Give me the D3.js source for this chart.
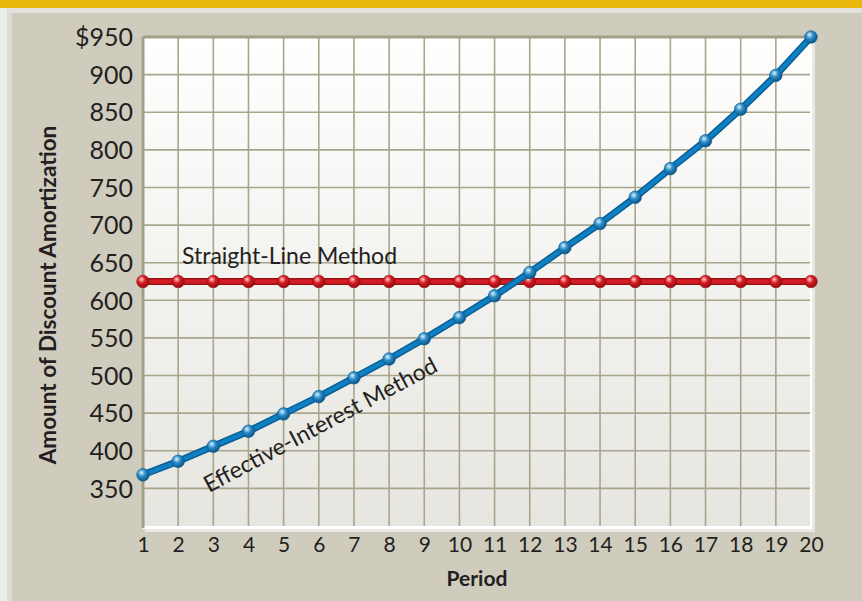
<!DOCTYPE html>
<html><head><meta charset="utf-8">
<script src="https://cdn.jsdelivr.net/npm/d3@7/dist/d3.min.js"></script>
<style>
html,body{margin:0;padding:0;background:#cfccbe;}
svg{display:block;font-family:Lato,"Open Sans",sans-serif;}
</style></head>
<body><svg id="chart" width="862" height="601"></svg>
<script>
const periods = d3.range(1, 21);
const straightLine = [625,625,625,625,625,625,625,625,625,625,625,625,625,625,625,625,625,625,625,625];
const effectiveInterest = [368,386,406,426,449,472,497,522,549,577,606,637,670,702,737,775,812,854,899,950];
const yTicks = [350,400,450,500,550,600,650,700,750,800,850,900,950];
const yTickLabels = ["350","400","450","500","550","600","650","700","750","800","850","900","$950"];
const yTitle = "Amount of Discount Amortization";
const xTitle = "Period";
const slLabel = "Straight-Line Method";
const eiLabel = "Effective-Interest Method";

const svg = d3.select("#chart");
const W = 862, H = 601;
const L = 143, R = 811, T = 37, B = 526;

// frame
svg.append("rect").attr("width",W).attr("height",H).attr("fill","#cfccbe");
svg.append("rect").attr("x",0).attr("y",0).attr("width",7).attr("height",H).attr("fill","#e8efe8");
svg.append("rect").attr("x",7).attr("y",8).attr("width",5).attr("height",H).attr("fill","#dedbd3");
svg.append("rect").attr("x",7).attr("y",8).attr("width",W).attr("height",5).attr("fill","#e3e1db");
svg.append("rect").attr("x",0).attr("y",0).attr("width",W).attr("height",8).attr("fill","#e8b80b");

const x = d3.scaleLinear().domain([1,20]).range([L,R]);
const y = d3.scaleLinear().domain([300,950]).range([B,T]);

const defs = svg.append("defs");
const bg = defs.append("linearGradient").attr("id","bg").attr("x1",0).attr("y1",0).attr("x2",0).attr("y2",1);
bg.append("stop").attr("offset","0%").attr("stop-color","#ffffff");
bg.append("stop").attr("offset","100%").attr("stop-color","#e6e5df");
function ball(id, hi, mid, dark){
  const g = defs.append("radialGradient").attr("id",id).attr("cx","40%").attr("cy","38%").attr("r","65%").attr("fx","38%").attr("fy","32%");
  g.append("stop").attr("offset","0%").attr("stop-color",hi);
  g.append("stop").attr("offset","45%").attr("stop-color",mid);
  g.append("stop").attr("offset","100%").attr("stop-color",dark);
}
ball("redBall","#ffd0d0","#d81c22","#8a0c10");
ball("blueBall","#dff2ff","#2a8cc8","#0b4f80");

// plot shadow/border
svg.append("rect").attr("x",L+2).attr("y",T+2).attr("width",R-L+2).attr("height",B-T+4).attr("fill","#e9e8e3");
svg.append("rect").attr("x",L).attr("y",T).attr("width",R-L+1).attr("height",B-T+3).attr("fill","#ffffff");
svg.append("rect").attr("x",L).attr("y",T).attr("width",R-L-1).attr("height",B-T).attr("fill","url(#bg)");

// grid
const grid = svg.append("g");
grid.selectAll("line.h").data(yTicks).join("line")
  .attr("x1",L).attr("x2",R-1).attr("y1",d=>y(d)).attr("y2",d=>y(d))
  .attr("stroke","#a7a68d").attr("stroke-width",1.6);
grid.selectAll("line.v").data(periods.slice(1,19)).join("line")
  .attr("y1",T).attr("y2",B).attr("x1",d=>x(d)).attr("x2",d=>x(d))
  .attr("stroke","#a7a68d").attr("stroke-width",1.6);
// top/left darker edges
svg.append("line").attr("x1",L).attr("x2",R).attr("y1",T).attr("y2",T).attr("stroke","#a0a088").attr("stroke-width",3);
svg.append("line").attr("x1",L).attr("x2",L).attr("y1",T).attr("y2",B+2).attr("stroke","#a0a088").attr("stroke-width",3);

// axes
const yAxis = d3.axisLeft(y).tickValues(yTicks).tickSize(0).tickPadding(10)
  .tickFormat((d,i)=>yTickLabels[i]);
const ya = svg.append("g").attr("transform",`translate(${L},0)`).call(yAxis);
ya.select(".domain").remove();
ya.selectAll("text").attr("font-size",25).attr("fill","#231f20").attr("font-family","Lato").attr("dy","0.35em");

const xAxis = d3.axisBottom(x).tickValues(periods).tickSize(0).tickPadding(11);
const xa = svg.append("g").attr("transform",`translate(0,${B})`).call(xAxis);
xa.select(".domain").remove();
xa.selectAll("text").attr("font-size",21).attr("fill","#231f20").attr("font-family","Lato");

svg.append("text").attr("transform",`translate(56,295) rotate(-90)`).attr("text-anchor","middle")
  .attr("font-weight","bold").attr("font-size",22.5).attr("fill","#231f20").text(yTitle);
svg.append("text").attr("x",(L+R)/2).attr("y",586).attr("text-anchor","middle")
  .attr("font-weight","bold").attr("font-size",21).attr("fill","#231f20").text(xTitle);

// series
function series(vals, dark, mid, ballId){
  const line = d3.line().x((d,i)=>x(periods[i])).y(d=>y(d));
  svg.append("path").attr("d",line(vals)).attr("fill","none").attr("stroke",dark).attr("stroke-width",7).attr("stroke-linejoin","round");
  svg.append("path").attr("d",line(vals)).attr("fill","none").attr("stroke",mid).attr("stroke-width",4).attr("stroke-linejoin","round");
  svg.append("g").selectAll("circle").data(vals).join("circle")
    .attr("cx",(d,i)=>x(periods[i])).attr("cy",d=>y(d)).attr("r",6.3)
    .attr("fill",`url(#${ballId})`).attr("stroke",dark).attr("stroke-width",0.6);
}
series(straightLine, "#9c0f14", "#d41d24", "redBall");
series(effectiveInterest, "#075f96", "#0f80c4", "blueBall");

svg.append("text").attr("x",182).attr("y",264).attr("font-size",23).attr("fill","#231f20").text(slLabel);
svg.append("text").attr("transform","translate(209,493) rotate(-28)").attr("font-size",23).attr("fill","#231f20").text(eiLabel);
</script></body></html>
